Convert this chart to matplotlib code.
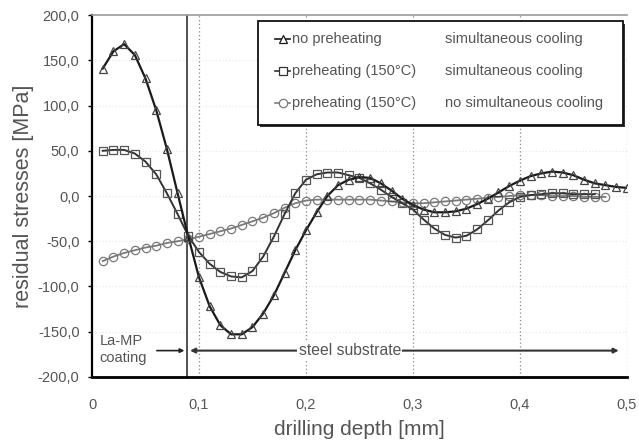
import matplotlib
matplotlib.use("Agg")
import matplotlib.pyplot as plt
from matplotlib.lines import Line2D
from matplotlib.patches import Rectangle
from matplotlib.ticker import FuncFormatter

plt.rcParams['font.family'] = ['Liberation Sans', 'DejaVu Sans']

# drilling depth [mm] and residual stresses [MPa]
depth_tri = [0.01, 0.02, 0.03, 0.04, 0.05, 0.06, 0.07, 0.08, 0.09, 0.10,
             0.11, 0.12, 0.13, 0.14, 0.15, 0.16, 0.17, 0.18, 0.19, 0.20,
             0.21, 0.22, 0.23, 0.24, 0.25, 0.26, 0.27, 0.28, 0.29, 0.30,
             0.31, 0.32, 0.33, 0.34, 0.35, 0.36, 0.37, 0.38, 0.39, 0.40,
             0.41, 0.42, 0.43, 0.44, 0.45, 0.46, 0.47, 0.48, 0.49, 0.50]
stress_tri = [141, 160, 168, 156, 130, 95, 52, 3, -45, -90,
              -122, -143, -153, -153, -145, -130, -110, -85, -60, -38,
              -18, 0, 12, 18, 21, 20, 14, 6, -3, -10,
              -15, -18, -18, -17, -14, -9, -3, 4, 11, 17,
              22, 25, 27, 26, 23, 18, 14, 12, 10, 9]

depth_sq = [0.01, 0.02, 0.03, 0.04, 0.05, 0.06, 0.07, 0.08, 0.09, 0.10,
            0.11, 0.12, 0.13, 0.14, 0.15, 0.16, 0.17, 0.18, 0.19, 0.20,
            0.21, 0.22, 0.23, 0.24, 0.25, 0.26, 0.27, 0.28, 0.29, 0.30,
            0.31, 0.32, 0.33, 0.34, 0.35, 0.36, 0.37, 0.38, 0.39, 0.40,
            0.41, 0.42, 0.43, 0.44, 0.45, 0.46, 0.47]
stress_sq = [50, 51, 51, 47, 38, 24, 3, -20, -44, -62,
             -75, -84, -89, -90, -83, -67, -45, -20, 3, 18,
             24, 26, 26, 23, 20, 14, 7, -1, -8, -15,
             -26, -36, -43, -46, -44, -37, -27, -16, -7, -1,
             1, 2, 3, 3, 2, 2, 2]

depth_ci = [0.01, 0.02, 0.03, 0.04, 0.05, 0.06, 0.07, 0.08, 0.09, 0.10,
            0.11, 0.12, 0.13, 0.14, 0.15, 0.16, 0.17, 0.18, 0.19, 0.20,
            0.21, 0.22, 0.23, 0.24, 0.25, 0.26, 0.27, 0.28, 0.29, 0.30,
            0.31, 0.32, 0.33, 0.34, 0.35, 0.36, 0.37, 0.38, 0.39, 0.40,
            0.41, 0.42, 0.43, 0.44, 0.45, 0.46, 0.47, 0.48]
stress_ci = [-72, -67, -63, -60, -57, -55, -52, -50, -48, -45,
             -42, -39, -36, -32, -28, -24, -19, -13, -8, -5,
             -4, -4, -4, -4, -4, -4, -5, -6, -7, -8,
             -8, -7, -6, -5, -4, -3, -2, -1, 0, 1,
             1, 1, 0, 0, 0, -1, -1, -1]

legend_left = ['no preheating', 'preheating (150°C)', 'preheating (150°C)']
legend_right = ['simultaneous cooling', 'simultaneous cooling', 'no simultaneous cooling']

coating_depth = 0.089
text_grey = '#555555'

fig = plt.figure(figsize=(6.39, 4.47), dpi=100)
ax = fig.add_axes([0.144, 0.157, 0.837, 0.809])

ax.set_xlim(0, 0.5)
ax.set_ylim(-200, 200)
ax.set_xticks([0, 0.1, 0.2, 0.3, 0.4, 0.5])
ax.set_yticks(range(-200, 201, 50))
ax.xaxis.set_major_formatter(FuncFormatter(lambda v, p: '0' if v == 0 else f'{v:.1f}'.replace('.', ',')))
ax.yaxis.set_major_formatter(FuncFormatter(lambda v, p: f'{v:.1f}'.replace('.', ',')))
ax.tick_params(axis='y', length=3, width=1, colors='black', labelcolor=text_grey, labelsize=10.5, pad=6)
ax.tick_params(axis='x', length=0, labelcolor=text_grey, labelsize=10.5, pad=15)

# grid
for x in [0.1, 0.2, 0.3, 0.4, 0.5]:
    ax.axvline(x, color='#888888', lw=0.9, ls=(0, (1, 2)), zorder=1)
for y in range(-150, 200, 50):
    ax.axhline(y, color='#e6e6e6', lw=0.8, ls=(0, (1, 2)), zorder=0)

ax.spines['left'].set_linewidth(1.6)
ax.spines['bottom'].set_linewidth(2.0)
ax.spines['top'].set_color('#999999')
ax.spines['top'].set_linewidth(1.2)
ax.spines['right'].set_visible(False)

ax.axvline(coating_depth, color='#222222', lw=1.1, zorder=2)

mk = dict(markerfacecolor='none', markersize=6, markeredgewidth=0.9)
ax.plot(depth_ci, stress_ci, color='#7a7a7a', lw=1.3, marker='o', markeredgecolor='#7a7a7a', zorder=3, **mk)
ax.plot(depth_sq, stress_sq, color='#333333', lw=1.4, marker='s', markeredgecolor='#555555', zorder=4, **mk)
ax.plot(depth_tri, stress_tri, color='#1a1a1a', lw=1.6, marker='^', markeredgecolor='#444444', zorder=5, **mk)

ax.set_xlabel('drilling depth [mm]', fontsize=15, color=text_grey, labelpad=6)
ax.set_ylabel('residual stresses [MPa]', fontsize=15.5, color=text_grey, labelpad=3)

# coating / substrate annotations
ax.text(0.007, -170, 'La-MP\ncoating', fontsize=10.5, color=text_grey, va='center', ha='left', linespacing=1.25)
ax.annotate('', xy=(coating_depth, -171), xytext=(0.058, -171),
            arrowprops=dict(arrowstyle='-|>', color='#222222', lw=1.2, mutation_scale=6))
ax.annotate('', xy=(0.495, -171), xytext=(coating_depth, -171),
            arrowprops=dict(arrowstyle='<|-|>', color='#333333', lw=1.5, mutation_scale=7))
ax.text(0.241, -171, 'steel substrate', fontsize=11.3, color=text_grey, va='center', ha='center',
        bbox=dict(facecolor='white', edgecolor='none', pad=1))

# legend box
lx0, lx1, ly0, ly1 = 0.310, 0.993, 0.696, 0.983
ax.add_patch(Rectangle((lx0 + 0.004, ly0 - 0.006), lx1 - lx0, ly1 - ly0, transform=ax.transAxes,
                       facecolor='#333333', edgecolor='none', zorder=8))
ax.add_patch(Rectangle((lx0, ly0), lx1 - lx0, ly1 - ly0, transform=ax.transAxes,
                       facecolor='white', edgecolor='#111111', lw=1.3, zorder=9))
rows_y = [0.935, 0.847, 0.758]
styles = [('^', '#1a1a1a'), ('s', '#333333'), ('o', '#7a7a7a')]
for ry, (m, c), left, right in zip(rows_y, styles, legend_left, legend_right):
    ax.add_line(Line2D([0.343, 0.370], [ry, ry], transform=ax.transAxes, color=c, lw=1.2,
                       zorder=10))
    ax.add_line(Line2D([0.3565], [ry], transform=ax.transAxes, marker=m, markersize=6,
                       markerfacecolor='white', markeredgecolor=c, markeredgewidth=0.9, zorder=11))
    ax.text(0.374, ry, left, transform=ax.transAxes, fontsize=10.5, color=text_grey, va='center', zorder=11)
    ax.text(0.660, ry, right, transform=ax.transAxes, fontsize=10.5, color=text_grey, va='center', zorder=11)

fig.savefig('out.png', dpi=100)
